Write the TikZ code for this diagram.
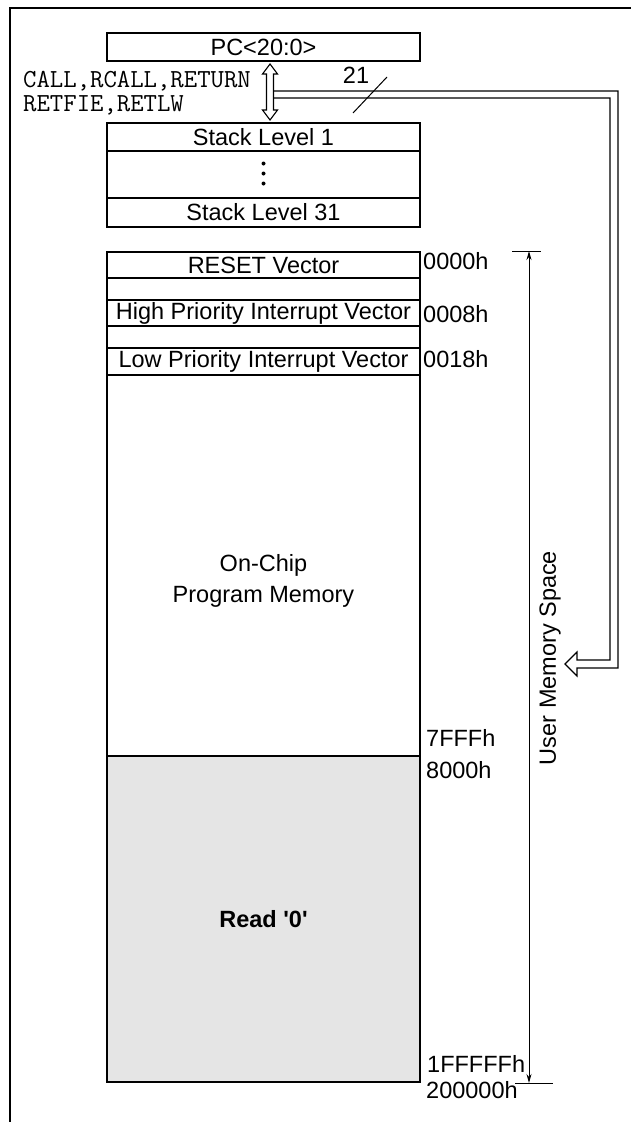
\documentclass[tikz,border=0pt]{standalone}
\usepackage{fontspec}
\setmainfont{Liberation Sans}
\usetikzlibrary{arrows.meta,positioning,calc}
\definecolor{readgray}{HTML}{E5E5E5}

\begin{document}
\begin{tikzpicture}[x=1pt, y=-1pt,
  font=\fontsize{23.5}{28}\selectfont,
  cell/.style={draw, line width=1.1pt, minimum width=313pt, outer sep=0pt, inner sep=0pt, align=center},
  addr/.style={anchor=west, inner sep=0pt},
  instr/.style={anchor=base west, inner sep=0pt, font=\ttfamily\fontsize{26}{20}\selectfont},
  fat/.style={draw, line width=1.1pt, line join=miter},
  dim/.style={{Stealth[length=9pt,width=5pt]}-{Stealth[length=9pt,width=5pt]}, line width=1pt}
]
\useasboundingbox (0,0) rectangle (631,1122);
\draw[line width=1.1pt] (10,1122) -- (10,8) -- (631,8);

% program counter and stack
\node[cell, minimum height=28pt] (pc) at (263.5,47) {PC<20:0>};
\node[cell, minimum height=28pt] (s1) at (263.5,137) {Stack Level 1};
\node[cell, minimum height=47pt, below=0pt of s1] (sdots) {};
\node[cell, minimum height=29pt, below=0pt of sdots] (s31) {Stack Level 31};
\foreach \dy in {-11,-1,9}
  \fill ($(sdots.center)+(0,\dy)$) circle (2pt);

\node[instr] (calls) at (23,87) {CALL,RCALL,RETURN};
\node[instr] (rets) at (23,111) {RETFIE,RETLW};

% push / pop arrow
\coordinate (ftop) at ($(pc.south)+(6.5,3)$);
\coordinate (fbot) at ($(s1.north)+(6.5,-3)$);
\draw[fat, fill=white] (ftop) -- ++(7.5,10) -- ++(-4,0) -- ($(fbot)+(3.5,-10)$) -- ++(4,0)
  -- (fbot) -- ++(-7.5,-10) -- ++(4,0) -- ($(ftop)+(-3.5,10)$) -- ++(-4,0) -- cycle;

% memory map
\node[cell, minimum height=26pt] (reset) at (263.5,265) {RESET Vector};
\node[cell, minimum height=22pt, below=0pt of reset] (gap1) {};
\node[cell, minimum height=26pt, below=0pt of gap1] (high) {High Priority Interrupt Vector};
\node[cell, minimum height=22pt, below=0pt of high] (gap2) {};
\node[cell, minimum height=27pt, below=0pt of gap2] (low) {Low Priority Interrupt Vector};
\node[cell, minimum height=381pt, below=0pt of low] (onchip) {};
\node[cell, minimum height=326pt, below=0pt of onchip, fill=readgray, line width=1.8pt] (read0) {\bfseries Read \textquotesingle0\textquotesingle};
\node[align=center, font=\fontsize{23.5}{31}\selectfont] (onchiptxt) at ($(onchip.center)+(0,15)$) {On-Chip\\Program Memory};

\node[addr] (a0) at (423,261) {0000h};
\node[addr] (a8) at (423,314) {0008h};
\node[addr] (a18) at (423,359) {0018h};
\node[addr] (a7fff) at (426,738) {7FFFh};
\node[addr] (a8000) at (426,770) {8000h};
\node[addr] (a1f) at (427,1064) {1FFFFFh};
\node[addr] (a2) at (426,1090) {200000h};

% user memory space extent
\coordinate (umtop) at (529,251);
\coordinate (umbot) at (529,1083);
\draw[line width=1pt] ($(umtop)+(-17,0)$) -- ($(umtop)+(12,0)$);
\draw[line width=1pt] ($(umbot)+(-14,0)$) -- ($(umbot)+(24,0)$);
\draw[dim] (umtop) -- (umbot);
\node[rotate=90] (umlabel) at (550,658) {User Memory Space};

% 21-bit bus into memory
\coordinate (memtip) at (565,664);
\draw[fat] ($(ftop)+(3.5,27)$) -- (618,91) -- (618,668) -- ($(memtip)+(12,4)$) -- ($(memtip)+(12,12)$)
  -- (memtip) -- ($(memtip)+(12,-12)$) -- ($(memtip)+(12,-4)$) -- (610,660) -- (610,98) -- ($(ftop)+(3.5,34)$);
\draw[line width=1pt] (353,113) -- (387,77);
\node (buswidth) at (356,75) {21};
\end{tikzpicture}
\end{document}
